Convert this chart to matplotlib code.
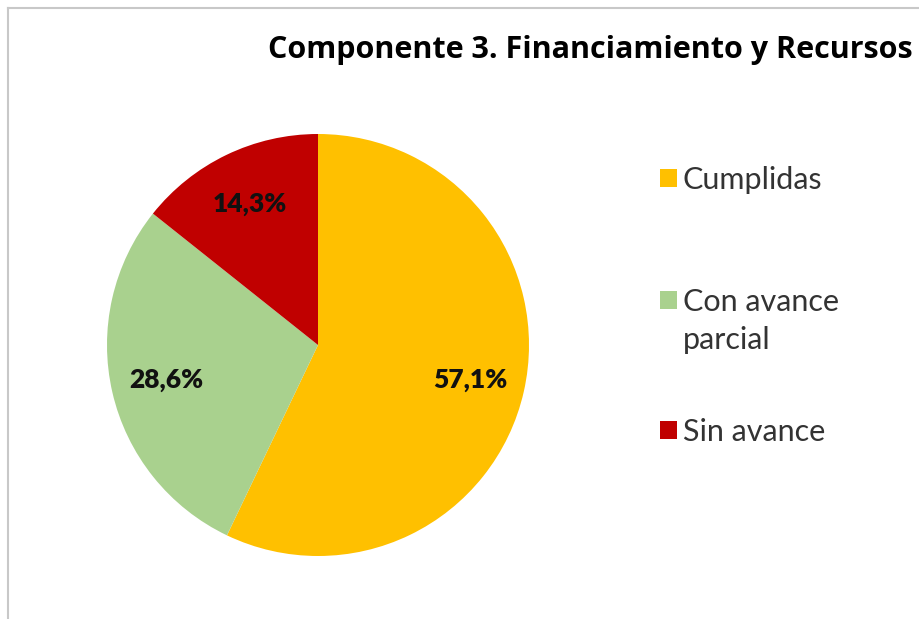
import matplotlib.pyplot as plt
from matplotlib.lines import Line2D

labels = ["Cumplidas", "Con avance", "Sin avance"]
label_extra = ["", "parcial", ""]
values = [57.1, 28.6, 14.3]
colors = ["#FFC000", "#A9D18E", "#C00000"]
title = "Componente 3. Financiamiento y Recursos"

W, H = 920, 619
fig = plt.figure(figsize=(W / 100, H / 100), dpi=100)
fig.patch.set_facecolor("white")

# chart frame (only left and top edges visible)
fig.add_artist(Line2D([8 / W, 8 / W], [0, 1 - 8 / H], color="#c8c8c8", lw=1.5, transform=fig.transFigure))
fig.add_artist(Line2D([8 / W, 1], [1 - 8 / H, 1 - 8 / H], color="#c8c8c8", lw=1.5, transform=fig.transFigure))

cx, cy, r = 318, 345, 211
ax = fig.add_axes([(cx - r) / W, (H - cy - r) / H, 2 * r / W, 2 * r / H])

wedges, texts, autotexts = ax.pie(
    values, colors=colors, startangle=90, counterclock=False,
    radius=1.0, pctdistance=0.74,
    autopct=lambda p: f"{p:.1f}%".replace(".", ","),
    wedgeprops=dict(linewidth=0),
    textprops=dict(fontsize=19, fontweight="heavy", color="#111111", family="Lato"),
)
ax.set_xlim(-1, 1)
ax.set_ylim(-1, 1)
ax.set_aspect("equal")
ax.axis("off")

fig.text(268 / W, 1 - 50 / H, title, ha="left", va="center",
         fontsize=22, fontweight="bold", family="Open Sans", color="black")

# one legend entry per slice, spaced as in the original
ypos = [180, 302, 432]
for w, lab, extra, y in zip(wedges, labels, label_extra, ypos):
    fig.legend([w], [lab], loc="center left", bbox_to_anchor=(660 / W, 1 - y / H),
               frameon=False, handlelength=0.55, handleheight=0.55,
               handletextpad=0.2, borderaxespad=0, borderpad=0,
               prop=dict(family="Lato", size=22), labelcolor="#333333")
    if extra:
        fig.text(683 / W, 1 - (y + 38) / H, extra, ha="left", va="center",
                 family="Lato", fontsize=22, color="#333333")

fig.savefig("out.png", dpi=100)
